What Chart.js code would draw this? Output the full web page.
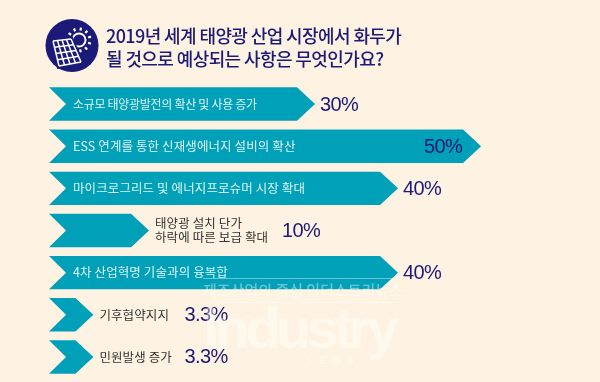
<!DOCTYPE html>
<html>
<head>
<meta charset="utf-8">
<style>
  html, body { margin: 0; padding: 0; background: #fef3e2; }
  #wrap { width: 600px; height: 382px; }
</style>
<script src="https://cdn.jsdelivr.net/npm/chart.js@4"></script>
</head>
<body>
<div id="wrap"><canvas id="chart" width="600" height="382"></canvas></div>
<script>
const categories = [
  '소규모 태양광발전의 확산 및 사용 증가',
  'ESS 연계를 통한 신재생에너지 설비의 확산',
  '마이크로그리드 및 에너지프로슈머 시장 확대',
  ['태양광 설치 단가', '하락에 따른 보급 확대'],
  '4차 산업혁명 기술과의 융복합',
  '기후협약지지',
  '민원발생 증가'
];
const values = [30, 50, 40, 10, 40, 3.3, 3.3];
const titleLines = ['2019년 세계 태양광 산업 시장에서 화두가', '될 것으로 예상되는 사항은 무엇인가요?'];

const TEAL = '#00a0b8';
const NAVY = '#1b1a78';
const FONT = '"Noto Sans CJK KR", "Noto Sans", sans-serif';
const NUM_FONT = '"Liberation Sans", sans-serif';

function drawIcon(ctx) {
  ctx.save();
  ctx.fillStyle = NAVY;
  ctx.beginPath();
  ctx.arc(72, 45.5, 26.5, 0, Math.PI * 2);
  ctx.fill();
  ctx.strokeStyle = '#fff';
  // sun
  ctx.lineWidth = 2;
  ctx.beginPath();
  ctx.arc(79, 40, 6.5, 0, Math.PI * 2);
  ctx.stroke();
  ctx.lineWidth = 2.2;
  for (let i = 0; i < 11; i++) {
    const a = i * Math.PI * 2 / 11 + 0.3;
    ctx.beginPath();
    ctx.moveTo(79 + Math.cos(a) * 9.5, 40 + Math.sin(a) * 9.5);
    ctx.lineTo(79 + Math.cos(a) * 12.5, 40 + Math.sin(a) * 12.5);
    ctx.stroke();
  }
  // panel
  const p = [[53, 41], [71, 39], [81, 62], [59, 66]];
  const at = (u, v) => [
    p[0][0] + (p[1][0] - p[0][0]) * u + (p[3][0] - p[0][0]) * v + (p[0][0] - p[1][0] + p[2][0] - p[3][0]) * u * v,
    p[0][1] + (p[1][1] - p[0][1]) * u + (p[3][1] - p[0][1]) * v + (p[0][1] - p[1][1] + p[2][1] - p[3][1]) * u * v
  ];
  ctx.fillStyle = NAVY;
  ctx.beginPath();
  p.forEach((c, i) => i ? ctx.lineTo(c[0], c[1]) : ctx.moveTo(c[0], c[1]));
  ctx.closePath();
  ctx.lineWidth = 5;
  ctx.strokeStyle = NAVY;
  ctx.stroke();
  ctx.fill();
  ctx.strokeStyle = '#fff';
  ctx.lineWidth = 1.5;
  for (let i = 0; i <= 4; i++) {
    ctx.beginPath();
    ctx.moveTo(...at(i / 4, 0));
    ctx.lineTo(...at(i / 4, 1));
    ctx.moveTo(...at(0, i / 4));
    ctx.lineTo(...at(1, i / 4));
    ctx.stroke();
  }
  ctx.restore();
}

// bars are drawn as notched arrows, tip at the value
const arrowPlugin = {
  id: 'arrows',
  afterDatasetsDraw(chart) {
    const ctx = chart.ctx;
    const left = chart.chartArea.left;
    const zero = chart.scales.x.getPixelForValue(0);
    chart.getDatasetMeta(0).data.forEach((bar) => {
      const top = bar.y - bar.height / 2;
      const bottom = bar.y + bar.height / 2;
      ctx.fillStyle = TEAL;
      ctx.beginPath();
      ctx.moveTo(left, top);
      ctx.lineTo(bar.x - 18, top);
      ctx.lineTo(bar.x, bar.y);
      ctx.lineTo(bar.x - 18, bottom);
      ctx.lineTo(left, bottom);
      ctx.lineTo(zero, bar.y);
      ctx.closePath();
      ctx.fill();
    });
  }
};

const textPlugin = {
  id: 'texts',
  afterDraw(chart) {
    const ctx = chart.ctx;
    const zero = chart.scales.x.getPixelForValue(0);
    drawIcon(ctx);
    ctx.save();
    ctx.textBaseline = 'middle';
    ctx.textAlign = 'left';

    ctx.fillStyle = NAVY;
    ctx.font = '500 18px ' + FONT;
    ctx.letterSpacing = '-0.6px';
    ctx.fillText(titleLines[0], 106, 36);
    ctx.fillText(titleLines[1], 106, 59);

    chart.getDatasetMeta(0).data.forEach((bar, i) => {
      const label = categories[i];
      const val = values[i];
      const short = val < 20;
      // first row is set tighter in the original
      ctx.font = (i === 0 ? '400 12px ' : '400 12.5px ') + FONT;
      ctx.letterSpacing = i === 0 ? '-0.3px' : '0.1px';
      ctx.fillStyle = short ? '#333' : '#dff4f6';
      const lx = short ? bar.x + 6 : zero + 7;
      if (Array.isArray(label)) {
        ctx.fillText(label[0], lx, bar.y - 7);
        ctx.fillText(label[1], lx, bar.y + 7);
      } else {
        ctx.fillText(label, lx, bar.y);
      }
      // percent labels: inside the longest arrow, otherwise after the text
      ctx.font = '400 20px ' + NUM_FONT;
      ctx.letterSpacing = '-0.6px';
      ctx.fillStyle = NAVY;
      let vx = bar.x + 5;
      if (val === 50) vx = bar.x - 57;
      if (val === 10) vx = bar.x + 133;
      if (val < 10) vx = bar.x + 91;
      ctx.fillText(val + '%', vx, bar.y + 1);
    });

    // watermark
    ctx.fillStyle = 'rgba(255,255,255,0.4)';
    ctx.font = '500 15px ' + FONT;
    ctx.letterSpacing = '0px';
    ctx.fillText('제조산업의 중심 인더스트리뉴스', 203, 290);
    ctx.fillRect(203, 278, 196, 1);
    ctx.fillRect(203, 302, 196, 1);
    ctx.font = '700 58px ' + NUM_FONT;
    ctx.letterSpacing = '-4.7px';
    ctx.fillText('Industry', 203, 332);
    ctx.font = '700 10px ' + NUM_FONT;
    ctx.letterSpacing = '6px';
    ctx.fillText('NEWS', 306, 361);
    ctx.restore();
  }
};

new Chart(document.getElementById('chart'), {
  type: 'bar',
  data: {
    labels: categories,
    datasets: [{ data: values, backgroundColor: 'rgba(0,0,0,0)', barPercentage: 0.794, categoryPercentage: 1 }]
  },
  options: {
    indexAxis: 'y',
    responsive: false,
    animation: false,
    layout: { padding: { left: 49, top: 83, bottom: 4, right: 0 } },
    plugins: { legend: { display: false }, tooltip: { enabled: false } },
    scales: {
      x: { display: false, min: -2.05, max: 64.33 },
      y: { display: false }
    }
  },
  plugins: [arrowPlugin, textPlugin]
});
</script>
</body>
</html>
